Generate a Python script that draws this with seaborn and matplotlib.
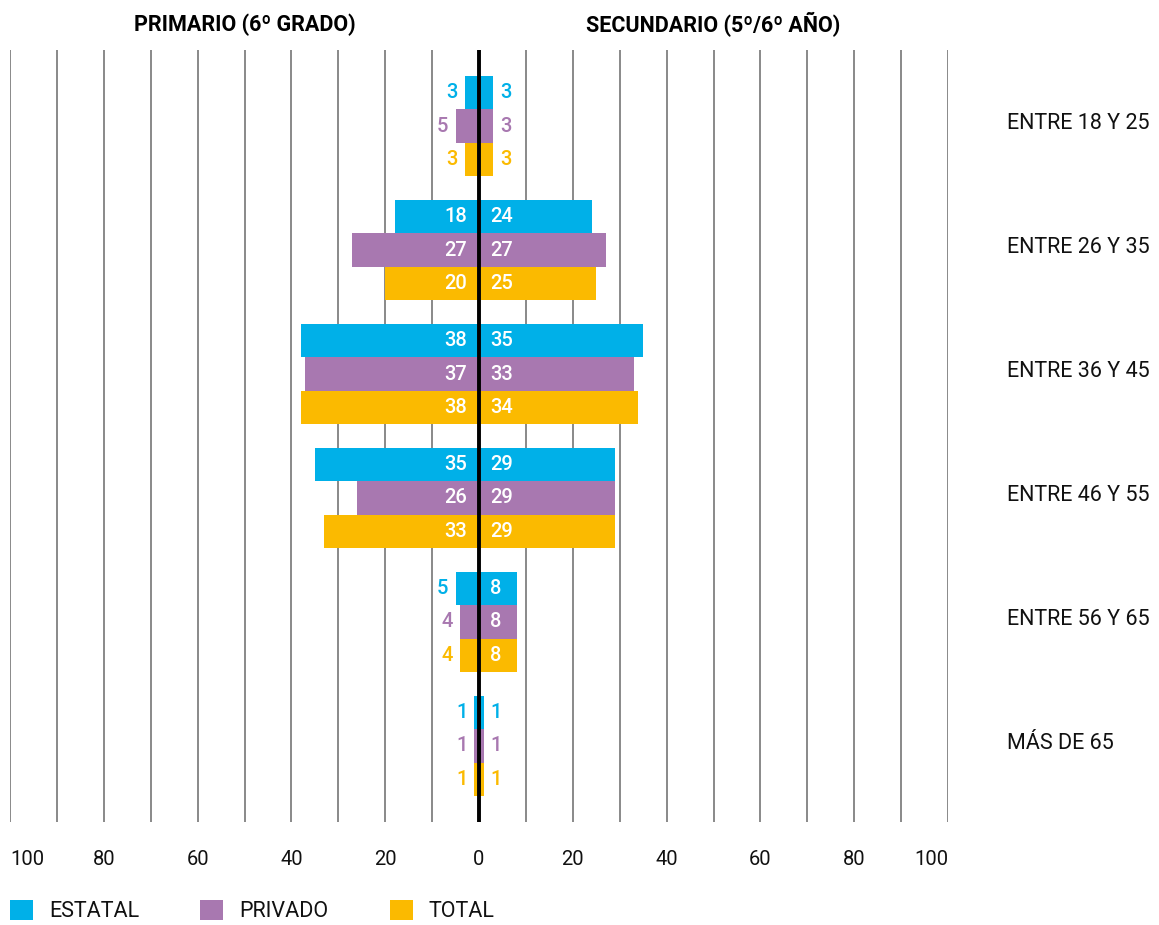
import matplotlib
matplotlib.use("Agg")
import matplotlib.pyplot as plt
from matplotlib.patches import Patch
import seaborn as sns
import pandas as pd

categorias = ["ENTRE 18 Y 25", "ENTRE 26 Y 35", "ENTRE 36 Y 45",
              "ENTRE 46 Y 55", "ENTRE 56 Y 65", "MÁS DE 65"]
grupos = ["ESTATAL", "PRIVADO", "TOTAL"]

primario_estatal = [3, 18, 38, 35, 5, 1]
primario_privado = [5, 27, 37, 26, 4, 1]
primario_total = [3, 20, 38, 33, 4, 1]

secundario_estatal = [3, 24, 35, 29, 8, 1]
secundario_privado = [3, 27, 33, 29, 8, 1]
secundario_total = [3, 25, 34, 29, 8, 1]

tick_values = [-100, -80, -60, -40, -20, 0, 20, 40, 60, 80, 100]
tick_labels = ["100", "80", "60", "40", "20", "0", "20", "40", "60", "80", "100"]

colores = {"ESTATAL": "#00B0E8", "PRIVADO": "#A878B0", "TOTAL": "#FBBA00"}

prim = {"ESTATAL": primario_estatal, "PRIVADO": primario_privado, "TOTAL": primario_total}
sec = {"ESTATAL": secundario_estatal, "PRIVADO": secundario_privado, "TOTAL": secundario_total}

rows = []
for g in grupos:
    for i, c in enumerate(categorias):
        rows.append({"cat": c, "grupo": g, "prim": prim[g][i], "sec": sec[g][i],
                     "prim_neg": -prim[g][i]})
df = pd.DataFrame(rows)

sns.set_style("white")
plt.rcParams["font.family"] = ["Roboto", "DejaVu Sans"]

W, H = 1159, 925
fig = plt.figure(figsize=(W / 100, H / 100), dpi=100)
ax_left, ax_right, ax_top, ax_bot = 10, 948, 50, 822
ax = fig.add_axes([ax_left / W, 1 - ax_bot / H, (ax_right - ax_left) / W, (ax_bot - ax_top) / H])

bar_kw = dict(hue="grupo", order=categorias, hue_order=grupos, orient="h", palette=colores,
              width=0.8, dodge=True, saturation=1, legend=False, errorbar=None, ax=ax,
              zorder=3, linewidth=0, edgecolor="none")
sns.barplot(data=df, x="prim_neg", y="cat", **bar_kw)
sns.barplot(data=df, x="sec", y="cat", **bar_kw)

ax.set_xlim(-100, 100)
ax.set_ylim(5.613, -0.613)
ax.set_xticks(tick_values)
ax.set_xticklabels(tick_labels)
ax.set_xticks(range(-90, 100, 20), minor=True)
ax.grid(axis="x", which="both", color="#808080", lw=1.3, zorder=0)
ax.set_axisbelow(True)
ax.axvline(0, color="black", lw=2.8, zorder=6)
for s in ax.spines.values():
    s.set_visible(False)
ax.tick_params(axis="x", which="both", length=0, pad=20, labelsize=14.5, labelcolor="#111111")
ax.tick_params(axis="y", length=0)
ax.set_yticklabels([])
ax.set_xlabel("")
ax.set_ylabel("")
lbls = ax.get_xticklabels()
lbls[0].set_ha("left")
lbls[-1].set_ha("right")

# value labels
bw = 0.8 / 3
num_font = dict(fontsize=14.5, fontweight="medium", family=["Roboto", "DejaVu Sans"])
for j, g in enumerate(grupos):
    for i in range(len(categorias)):
        y = i - 0.4 + bw * (j + 0.5)
        vl = prim[g][i]
        vr = sec[g][i]
        if vl >= 6:
            ax.text(-2.5, y, str(vl), ha="right", va="center", color="white", zorder=7, **num_font)
        else:
            ax.text(-vl - 1.5, y, str(vl), ha="right", va="center", color=colores[g], zorder=7,
                    bbox=dict(facecolor="white", edgecolor="none", pad=1.5), **num_font)
        if vr >= 6:
            ax.text(2.4, y, str(vr), ha="left", va="center", color="white", zorder=7, **num_font)
        else:
            ax.text(vr + 1.5, y, str(vr), ha="left", va="center", color=colores[g], zorder=7,
                    bbox=dict(facecolor="white", edgecolor="none", pad=1.5), **num_font)

# category labels
cat_x = (1007 - ax_left) / (ax_right - ax_left)
for i, c in enumerate(categorias):
    ax.text(cat_x, i - 0.02, c, transform=ax.get_yaxis_transform(), ha="left", va="center",
            fontsize=15.5, color="#111111")

# titles
ax.annotate("PRIMARIO (6º GRADO)", xy=(-50, 1 - 25 / H), xycoords=("data", "figure fraction"),
            ha="center", va="center", fontsize=15.5, fontweight="bold", color="black")
ax.annotate("SECUNDARIO (5º/6º AÑO)", xy=(50, 1 - 25 / H), xycoords=("data", "figure fraction"),
            ha="center", va="center", fontsize=15.5, fontweight="bold", color="black")

handles = [Patch(facecolor=colores[g], edgecolor="none", label=g) for g in grupos]
fig.legend(handles=handles, loc="center left", bbox_to_anchor=(10 / W, 1 - 911 / H),
           ncol=3, frameon=False, fontsize=15.5, handlelength=1.07, handleheight=1.05,
           handletextpad=0.74, columnspacing=2.85, borderpad=0, borderaxespad=0)
for t in fig.legends[0].get_texts():
    t.set_color("#111111")

fig.savefig("out.png", dpi=100, facecolor="white")
